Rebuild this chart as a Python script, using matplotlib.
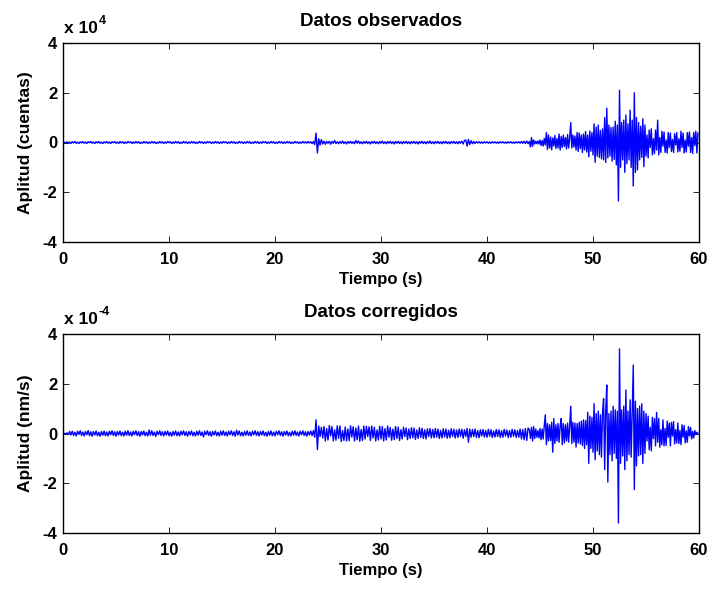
import numpy as np
import matplotlib
matplotlib.use("Agg")
import matplotlib.pyplot as plt

plt.rcParams['font.family'] = ['Liberation Sans', 'DejaVu Sans']
plt.rcParams['font.weight'] = 'bold'
plt.rcParams['axes.unicode_minus'] = False

# ---- time grids -------------------------------------------------------
quiet_start, quiet_step = 0.0, 0.125    # 0 .. 43.875 s
active_start, active_step = 44.0, 0.1   # 44.0 .. 59.9 s

# ---- observed trace (x 1e4 counts), one row per second -----------------
obs_quiet = [
    0.00, 0.01, -0.02, 0.03, -0.03, 0.02, -0.04, 0.03,
    -0.02, 0.04, -0.03, 0.01, -0.04, 0.03, -0.02, 0.04,
    -0.03, 0.02, -0.04, 0.03, -0.01, 0.04, -0.03, 0.02,
    -0.04, 0.03, -0.02, 0.04, -0.03, 0.01, -0.04, 0.03,
    -0.02, 0.04, -0.03, 0.02, -0.04, 0.03, -0.01, 0.04,
    -0.03, 0.02, -0.04, 0.04, -0.02, 0.03, -0.04, 0.02,
    -0.03, 0.04, -0.01, 0.03, -0.04, 0.02, -0.03, 0.04,
    -0.02, 0.03, -0.04, 0.01, -0.03, 0.04, -0.02, 0.03,
    -0.04, 0.02, -0.03, 0.04, -0.02, 0.03, -0.04, 0.01,
    -0.03, 0.04, -0.02, 0.03, -0.04, 0.02, -0.03, 0.04,
    -0.01, 0.03, -0.04, 0.02, -0.03, 0.04, -0.02, 0.03,
    -0.04, 0.01, -0.03, 0.04, -0.02, 0.03, -0.04, 0.02,
    -0.03, 0.04, -0.02, 0.03, -0.04, 0.01, -0.03, 0.04,
    -0.02, 0.03, -0.04, 0.02, -0.03, 0.04, -0.01, 0.03,
    -0.04, 0.02, -0.03, 0.04, -0.02, 0.03, -0.04, 0.02,
    -0.03, 0.04, -0.01, 0.03, -0.04, 0.02, -0.03, 0.04,
    -0.02, 0.03, -0.04, 0.01, -0.03, 0.04, -0.02, 0.03,
    -0.04, 0.02, -0.03, 0.04, -0.02, 0.03, -0.04, 0.01,
    -0.03, 0.04, -0.02, 0.03, -0.04, 0.02, -0.03, 0.04,
    -0.01, 0.03, -0.04, 0.02, -0.03, 0.04, -0.02, 0.03,
    -0.04, 0.01, -0.03, 0.04, -0.02, 0.03, -0.04, 0.02,
    -0.03, 0.04, -0.02, 0.03, -0.04, 0.01, -0.03, 0.04,
    -0.02, 0.03, -0.04, 0.02, -0.03, 0.04, -0.02, 0.03,
    -0.03, 0.04, -0.02, 0.03, -0.05, 0.04, -0.08, 0.38,
    -0.42, 0.15, -0.10, 0.12, -0.06, 0.05, -0.07, 0.04,
    -0.03, 0.05, -0.07, 0.04, -0.03, 0.08, -0.04, 0.03,
    -0.05, 0.04, -0.03, 0.06, -0.04, 0.03, -0.06, 0.04,
    -0.03, 0.05, -0.04, 0.03, -0.05, 0.08, -0.03, 0.06,
    -0.04, 0.03, -0.05, 0.04, -0.03, 0.05, -0.04, 0.03,
    -0.06, 0.04, -0.03, 0.05, -0.04, 0.03, -0.05, 0.04,
    -0.03, 0.06, -0.04, 0.03, -0.05, 0.04, -0.03, 0.05,
    -0.04, 0.03, -0.06, 0.04, -0.03, 0.05, -0.04, 0.03,
    -0.05, 0.04, -0.03, 0.05, -0.04, 0.03, -0.05, 0.04,
    -0.03, 0.05, -0.04, 0.03, -0.06, 0.04, -0.03, 0.05,
    -0.04, 0.03, -0.05, 0.04, -0.03, 0.06, -0.04, 0.03,
    -0.05, 0.04, -0.03, 0.05, -0.04, 0.03, -0.05, 0.04,
    -0.03, 0.05, -0.04, 0.03, -0.05, 0.04, -0.03, 0.05,
    -0.04, 0.03, -0.05, 0.04, -0.03, 0.05, -0.06, 0.08,
    0.10, -0.14, 0.12, -0.08, 0.07, -0.05, 0.04, -0.04,
    0.03, -0.02, 0.03, -0.03, 0.02, -0.03, 0.03, -0.02,
    0.03, -0.03, 0.02, -0.03, 0.03, -0.02, 0.03, -0.03,
    0.02, -0.03, 0.03, -0.02, 0.03, -0.03, 0.02, -0.03,
    0.03, -0.02, 0.03, -0.03, 0.02, -0.03, 0.03, -0.02,
    0.03, -0.03, 0.04, -0.03, 0.05, -0.04, 0.06, -0.05,
]
obs_active = [
    0.04, -0.18, 0.20, -0.15, 0.10, -0.06, 0.05, -0.05, 0.06, -0.06,
    0.10, -0.12, 0.08, -0.14, 0.16, -0.10, 0.40, -0.28, 0.30, -0.22,
    0.22, -0.30, 0.18, -0.14, 0.28, -0.24, 0.16, -0.22, 0.34, -0.30,
    0.24, -0.20, 0.30, -0.16, 0.20, -0.26, 0.32, -0.22, 0.18, 0.80,
    -0.22, 0.30, -0.18, 0.26, -0.30, 0.40, -0.36, 0.38, -0.25, 0.30,
    -0.40, 0.34, -0.30, 0.44, -0.38, 0.30, -0.57, 0.46, -0.35, 0.40,
    -0.50, 0.75, -0.80, 0.62, -0.55, 0.70, -0.60, 0.48, -0.66, 0.55,
    -0.70, 1.00, -0.80, 1.38, -0.62, 0.70, -0.55, 0.60, -0.75, 0.62,
    -0.68, 0.85, -0.90, 0.70, -2.35, 2.10, -1.00, 0.80, -0.70, 0.90,
    -1.20, 1.10, -0.85, 0.75, -0.70, 1.30, -1.00, 0.90, -1.75, 2.00,
    -1.20, 1.00, -1.10, 0.80, -0.70, 0.65, -0.60, 0.95, -0.97, 0.70,
    -0.55, 0.30, -0.62, 0.50, -0.20, 0.55, -0.50, 0.15, -0.45, 0.50,
    -0.30, 0.90, -0.50, 0.20, -0.40, 0.45, -0.15, 0.42, -0.40, 0.10,
    -0.42, 0.40, -0.20, 0.38, -0.36, 0.12, -0.40, 0.35, -0.10, 0.40,
    -0.38, 0.15, -0.35, 0.45, -0.20, 0.38, -0.42, 0.10, -0.38, 0.40,
    -0.15, 0.42, -0.40, 0.20, -0.44, 0.40, -0.12, 0.45, -0.42, 0.38,
]

# ---- corrected trace (x 1e-4 nm/s), one row per second -----------------
cor_quiet = [
    0.00, 0.00, 0.00, 0.02, -0.04, 0.08, -0.06, 0.09,
    -0.08, 0.05, -0.10, 0.09, -0.04, 0.11, -0.08, 0.06,
    -0.10, 0.08, -0.05, 0.12, -0.09, 0.07, -0.11, 0.08,
    -0.06, 0.10, -0.09, 0.05, -0.11, 0.08, -0.07, 0.10,
    -0.09, 0.06, -0.10, 0.09, -0.05, 0.11, -0.08, 0.07,
    -0.11, 0.08, -0.06, 0.10, -0.09, 0.05, -0.10, 0.09,
    -0.07, 0.11, -0.08, 0.06, -0.10, 0.09, -0.05, 0.11,
    -0.08, 0.07, -0.11, 0.08, -0.06, 0.10, -0.09, 0.05,
    -0.10, 0.14, -0.07, 0.11, -0.08, 0.06, -0.12, 0.09,
    -0.05, 0.11, -0.08, 0.07, -0.10, 0.08, -0.06, 0.10,
    -0.09, 0.05, -0.11, 0.08, -0.07, 0.10, -0.09, 0.06,
    -0.10, 0.09, -0.05, 0.11, -0.08, 0.07, -0.11, 0.08,
    -0.06, 0.10, -0.09, 0.05, -0.10, 0.09, -0.07, 0.11,
    -0.08, 0.06, -0.14, 0.09, -0.05, 0.11, -0.08, 0.07,
    -0.11, 0.08, -0.06, 0.10, -0.09, 0.05, -0.10, 0.09,
    -0.07, 0.11, -0.08, 0.06, -0.10, 0.09, -0.05, 0.11,
    -0.08, 0.07, -0.11, 0.13, -0.06, 0.10, -0.09, 0.05,
    -0.10, 0.08, -0.07, 0.11, -0.08, 0.06, -0.10, 0.09,
    -0.05, 0.11, -0.08, 0.07, -0.10, 0.08, -0.06, 0.10,
    -0.09, 0.05, -0.11, 0.08, -0.07, 0.10, -0.09, 0.06,
    -0.10, 0.09, -0.05, 0.11, -0.08, 0.07, -0.11, 0.08,
    -0.06, 0.10, -0.09, 0.05, -0.10, 0.09, -0.07, 0.11,
    -0.08, 0.06, -0.10, 0.09, -0.05, 0.11, -0.08, 0.07,
    -0.11, 0.08, -0.06, 0.10, -0.09, 0.12, -0.15, 0.55,
    -0.65, 0.30, -0.12, 0.25, -0.18, 0.28, -0.30, 0.20,
    -0.26, 0.32, -0.10, 0.28, -0.30, 0.15, -0.27, 0.31,
    -0.20, 0.30, -0.32, 0.12, -0.28, 0.26, -0.30, 0.18,
    -0.29, 0.31, -0.14, 0.27, -0.30, 0.22, -0.25, 0.30,
    -0.31, 0.16, -0.28, 0.30, -0.22, 0.29, -0.12, 0.27,
    -0.28, 0.30, -0.18, 0.25, -0.30, 0.14, -0.26, 0.29,
    -0.22, 0.28, -0.30, 0.20, -0.26, 0.30, -0.15, 0.24,
    -0.27, 0.18, -0.25, 0.28, -0.20, 0.26, -0.28, 0.15,
    -0.22, 0.25, -0.12, 0.22, -0.25, 0.18, -0.20, 0.24,
    -0.18, 0.22, -0.24, 0.14, -0.20, 0.23, -0.16, 0.21,
    -0.20, 0.15, -0.22, 0.19, -0.12, 0.20, -0.18, 0.16,
    -0.17, 0.20, -0.15, 0.18, -0.20, 0.12, -0.18, 0.19,
    -0.14, 0.18, -0.19, 0.13, -0.17, 0.19, -0.12, 0.17,
    -0.18, 0.14, -0.16, 0.18, -0.12, 0.17, -0.19, 0.15,
    -0.12, 0.20, -0.35, 0.18, -0.15, 0.16, -0.12, 0.18,
    -0.16, 0.12, -0.17, 0.15, -0.10, 0.16, -0.14, 0.12,
    -0.15, 0.17, -0.11, 0.15, -0.16, 0.10, -0.14, 0.16,
    -0.12, 0.15, -0.16, 0.11, -0.15, 0.17, -0.10, 0.14,
    -0.16, 0.12, -0.15, 0.17, -0.11, 0.15, -0.16, 0.12,
    -0.15, 0.18, -0.22, 0.16, -0.25, 0.20, -0.28, 0.22,
]
cor_active = [
    0.15, -0.20, 0.25, -0.30, 0.28, -0.20, 0.18, -0.15, 0.12, -0.18,
    0.20, -0.25, 0.18, -0.22, 0.30, 0.75, -0.45, 0.40, -0.30, 0.35,
    -0.28, 0.45, -0.75, 0.60, -0.40, 0.35, -0.30, 0.40, -0.35, 0.30,
    0.60, -0.45, 0.40, -0.38, 0.35, -0.30, 0.42, -0.35, 0.30, 1.10,
    -0.40, 0.45, -0.35, 0.42, -0.55, 0.40, -0.38, 0.45, -0.42, 0.50,
    -0.48, 0.55, -0.60, 0.52, -0.45, 0.85, -1.20, 0.70, -0.60, 0.65,
    -0.75, 1.20, -1.05, 0.80, -0.70, 0.90, -0.85, 0.75, -0.95, 0.85,
    1.40, -1.45, 0.90, 1.95, -1.95, 0.80, -0.85, 0.90, -1.10, 1.10,
    -0.80, 0.95, -1.00, 0.90, -3.60, 3.40, -1.20, 0.95, -0.90, 1.10,
    -1.45, 1.75, -1.10, 0.90, -0.85, 1.35, -0.95, 1.00, 2.75, -2.25,
    1.30, -1.30, 1.00, -0.90, 1.10, -0.85, 1.20, -1.20, 0.90, -0.80,
    0.80, -0.30, 0.70, -0.65, 0.25, -0.70, 0.65, -0.20, 0.60, -0.50,
    0.85, -0.35, 0.60, -0.55, 0.15, -0.45, 0.55, -0.50, 0.20, -0.48,
    0.50, -0.15, 0.42, -0.50, 0.45, -0.10, 0.48, -0.42, 0.15, -0.38,
    0.42, -0.40, 0.12, -0.45, 0.35, -0.15, 0.32, -0.38, 0.10, -0.35,
    0.28, -0.10, 0.25, -0.22, 0.08, -0.18, 0.12, -0.05, 0.05, 0.00,
]

x_ticks = [0, 10, 20, 30, 40, 50, 60]
y_ticks = [-4, -2, 0, 2, 4]

titles = ["Datos observados", "Datos corregidos"]
ylabels = ["Aplitud (cuentas)", "Aplitud (nm/s)"]
exponents = ["4", "-4"]
xlabel = "Tiempo (s)"


def trace(quiet, active):
    tq = quiet_start + quiet_step * np.arange(len(quiet))
    ta = active_start + active_step * np.arange(len(active))
    return np.concatenate([tq, ta]), np.concatenate([quiet, active])


fig = plt.figure(figsize=(7.12, 5.90), dpi=100)
W, H = 712, 590
boxes = [(63, 43, 699, 242), (63, 334, 699, 533)]
traces = [trace(obs_quiet, obs_active), trace(cor_quiet, cor_active)]

for (x0, y0, x1, y1), (t, v), title, ylab, ex in zip(
        boxes, traces, titles, ylabels, exponents):
    ax = fig.add_axes([x0 / W, 1 - y1 / H, (x1 - x0) / W, (y1 - y0) / H])
    ax.plot(t, v, color=(0, 0, 1), lw=1.0)
    ax.set_xlim(0, 60)
    ax.set_ylim(-4, 4)
    ax.set_xticks(x_ticks)
    ax.set_yticks(y_ticks)
    ax.tick_params(direction='in', length=4, width=0.6, top=True, right=True,
                   labelsize=12)
    ax.tick_params(axis='x', pad=7)
    ax.tick_params(axis='y', pad=4)
    for lab in ax.get_xticklabels() + ax.get_yticklabels():
        lab.set_fontweight('bold')
    for s in ax.spines.values():
        s.set_linewidth(1.0)
    ax.set_title(title, fontsize=13.5, fontweight='bold', pad=12.5)
    ax.set_xlabel(xlabel, fontsize=12, fontweight='bold', labelpad=4)
    ax.set_ylabel(ylab, fontsize=12.5, fontweight='bold', labelpad=7)
    # MATLAB-style exponent label above the y axis
    base = ax.text(0.002, 1.048, "x 10", transform=ax.transAxes, ha='left',
                   va='baseline', fontsize=12.5, fontweight='bold')
    ax.annotate(ex, xy=(1.0, 0.62), xycoords=base, xytext=(0.5, 0),
                textcoords='offset points', ha='left', va='bottom',
                fontsize=9, fontweight='bold')

fig.savefig("out.png", dpi=100)
